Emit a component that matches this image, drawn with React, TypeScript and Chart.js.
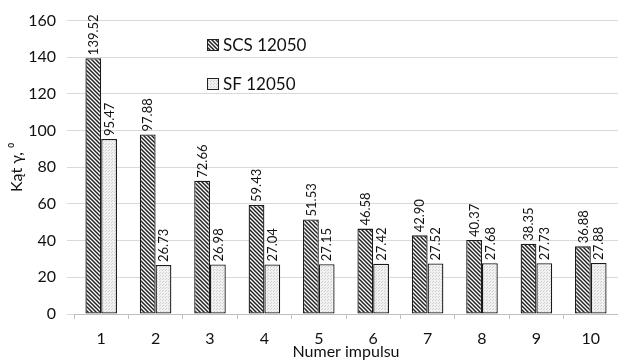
import React, { useEffect, useRef } from "react";
import { Chart, registerables } from "chart.js";

Chart.register(...registerables);

const categories = ["1", "2", "3", "4", "5", "6", "7", "8", "9", "10"];
const scsValues = [139.52, 97.88, 72.66, 59.43, 51.53, 46.58, 42.9, 40.37, 38.35, 36.88];
const sfValues = [95.47, 26.73, 26.98, 27.04, 27.15, 27.42, 27.52, 27.68, 27.73, 27.88];
const seriesNames = ["SCS 12050", "SF 12050"];
const yMin = 0;
const yMax = 160;
const yStep = 20;
const yTitle = "Kąt γ, ⁰";
const xTitle = "Numer impulsu";

const FONT = "Lato, 'Open Sans', sans-serif";

function makeHatch(): CanvasPattern | string {
  const c = document.createElement("canvas");
  c.width = 4;
  c.height = 4;
  const g = c.getContext("2d");
  if (!g) return "#777";
  g.fillStyle = "#ffffff";
  g.fillRect(0, 0, 4, 4);
  g.strokeStyle = "#222222";
  g.lineWidth = 1.5;
  g.beginPath();
  g.moveTo(-1, -1);
  g.lineTo(5, 5);
  g.moveTo(-1, 3);
  g.lineTo(1, 5);
  g.moveTo(3, -1);
  g.lineTo(5, 1);
  g.stroke();
  const p = g.createPattern(c, "repeat");
  return p || "#777";
}

function makeDots(): CanvasPattern | string {
  const c = document.createElement("canvas");
  c.width = 3;
  c.height = 3;
  const g = c.getContext("2d");
  if (!g) return "#eee";
  g.fillStyle = "#f1f1f1";
  g.fillRect(0, 0, 3, 3);
  g.fillStyle = "#cfcfcf";
  g.fillRect(0, 0, 1, 1);
  g.fillRect(1, 2, 1, 1);
  const p = g.createPattern(c, "repeat");
  return p || "#eee";
}

export default function App() {
  const ref = useRef<HTMLCanvasElement | null>(null);

  useEffect(() => {
    const canvas = ref.current;
    if (!canvas) return;
    const hatch = makeHatch();
    const dots = makeDots();

    const labelPlugin = {
      id: "valueLabels",
      afterDatasetsDraw(chart: any) {
        const ctx = chart.ctx;
        ctx.save();
        ctx.font = `13px ${FONT}`;
        ctx.fillStyle = "#111";
        chart.data.datasets.forEach((ds: any, di: number) => {
          const meta = chart.getDatasetMeta(di);
          meta.data.forEach((el: any, i: number) => {
            const v = ds.data[i] as number;
            ctx.save();
            ctx.translate(el.x + 0.5, el.y - 3);
            ctx.rotate(-Math.PI / 2);
            ctx.textAlign = "left";
            ctx.textBaseline = "middle";
            ctx.fillText(v.toFixed(2), 0, 0);
            ctx.restore();
          });
        });
        ctx.restore();
      },
    };

    const legendPlugin = {
      id: "insideLegend",
      afterDraw(chart: any) {
        const ctx = chart.ctx;
        const items = [
          { label: seriesNames[0], fill: hatch, y: 39 },
          { label: seriesNames[1], fill: dots, y: 78 },
        ];
        ctx.save();
        items.forEach((it) => {
          ctx.fillStyle = it.fill;
          ctx.fillRect(207, it.y, 12, 12);
          ctx.strokeStyle = "#222";
          ctx.lineWidth = 1;
          ctx.strokeRect(207.5, it.y + 0.5, 11, 11);
          ctx.fillStyle = "#111";
          ctx.font = `17px ${FONT}`;
          ctx.textAlign = "left";
          ctx.textBaseline = "middle";
          ctx.fillText(it.label, 223, it.y + 6.5);
        });
        ctx.restore();
      },
    };

    const chart = new Chart(canvas, {
      type: "bar",
      data: {
        labels: categories,
        datasets: [
          {
            label: seriesNames[0],
            data: scsValues,
            backgroundColor: hatch as any,
            borderColor: "#1a1a1a",
            borderWidth: 1.3,
            borderSkipped: false,
            categoryPercentage: 0.58,
            barPercentage: 1.0,
          },
          {
            label: seriesNames[1],
            data: sfValues,
            backgroundColor: dots as any,
            borderColor: "#1a1a1a",
            borderWidth: 1.3,
            borderSkipped: false,
            categoryPercentage: 0.58,
            barPercentage: 1.0,
          },
        ],
      },
      options: {
        responsive: false,
        animation: false,
        devicePixelRatio: 1,
        layout: { padding: { top: 20, right: 0, bottom: -1, left: 0 } },
        plugins: {
          legend: { display: false },
          tooltip: { enabled: false },
        },
        scales: {
          x: {
            grid: {
              display: true,
              drawOnChartArea: false,
              drawTicks: true,
              tickLength: 5,
              color: "#bfbfbf",
              offset: true,
            },
            border: { display: true, color: "#bfbfbf" },
            ticks: {
              color: "#111",
              font: { family: FONT, size: 16 },
              padding: 10,
              maxRotation: 0,
            },
            title: {
              display: true,
              text: xTitle,
              color: "#111",
              font: { family: FONT, size: 16, lineHeight: 1.1 },
              padding: { top: 0, bottom: 0 },
            },
            afterFit(scale: any) {
              scale.height = 47;
            },
          },
          y: {
            min: yMin,
            max: yMax,
            ticks: {
              stepSize: yStep,
              color: "#111",
              font: { family: FONT, size: 16 },
              padding: 11,
            },
            grid: {
              color: "#d9d9d9",
              tickLength: 7,
              drawTicks: true,
            },
            border: { display: false },
            title: {
              display: true,
              text: yTitle,
              color: "#111",
              font: { family: FONT, size: 16, lineHeight: 1.2 },
              padding: { top: 7, bottom: 0 },
            },
            afterFit(scale: any) {
              scale.width = 74;
            },
          },
        },
      },
      plugins: [labelPlugin, legendPlugin],
    } as any);

    return () => {
      chart.destroy();
    };
  }, []);

  return (
    <div style={{ position: "absolute", left: 0, top: 0, width: 618, height: 360, background: "#fff" }}>
      <canvas ref={ref} width={618} height={360} style={{ display: "block" }} />
    </div>
  );
}
